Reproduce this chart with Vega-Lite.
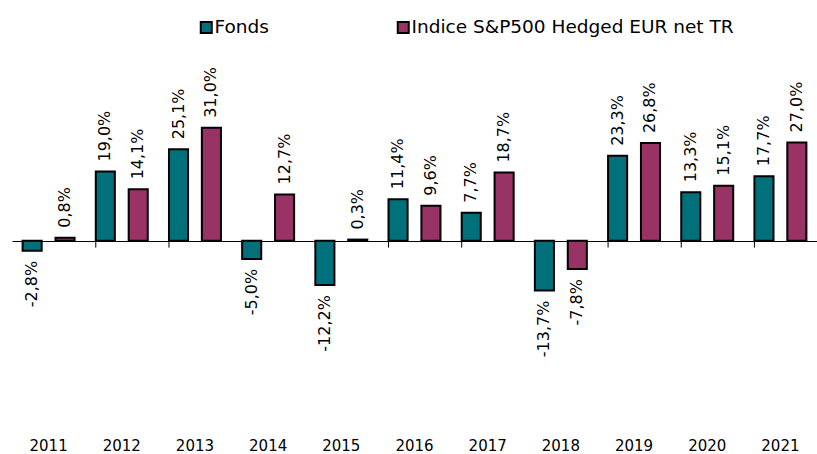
{
  "$schema": "https://vega.github.io/schema/vega-lite/v6.json",
  "width": 805,
  "height": 375,
  "autosize": {"type": "none"},
  "padding": {"left": 12, "top": 55, "right": 0, "bottom": 24},
  "config": {
    "locale": {"number": {"decimal": ",", "thousands": " ", "grouping": [3], "currency": ["", " €"], "minus": "-"}},
    "view": {"stroke": null},
    "font": "DejaVu Sans"
  },
  "data": {
    "values": [
      {"year": "2011", "series": "Fonds", "value": -0.028},
      {"year": "2011", "series": "Indice S&P500 Hedged EUR net TR", "value": 0.008},
      {"year": "2012", "series": "Fonds", "value": 0.190},
      {"year": "2012", "series": "Indice S&P500 Hedged EUR net TR", "value": 0.141},
      {"year": "2013", "series": "Fonds", "value": 0.251},
      {"year": "2013", "series": "Indice S&P500 Hedged EUR net TR", "value": 0.310},
      {"year": "2014", "series": "Fonds", "value": -0.050},
      {"year": "2014", "series": "Indice S&P500 Hedged EUR net TR", "value": 0.127},
      {"year": "2015", "series": "Fonds", "value": -0.122},
      {"year": "2015", "series": "Indice S&P500 Hedged EUR net TR", "value": 0.003},
      {"year": "2016", "series": "Fonds", "value": 0.114},
      {"year": "2016", "series": "Indice S&P500 Hedged EUR net TR", "value": 0.096},
      {"year": "2017", "series": "Fonds", "value": 0.077},
      {"year": "2017", "series": "Indice S&P500 Hedged EUR net TR", "value": 0.187},
      {"year": "2018", "series": "Fonds", "value": -0.137},
      {"year": "2018", "series": "Indice S&P500 Hedged EUR net TR", "value": -0.078},
      {"year": "2019", "series": "Fonds", "value": 0.233},
      {"year": "2019", "series": "Indice S&P500 Hedged EUR net TR", "value": 0.268},
      {"year": "2020", "series": "Fonds", "value": 0.133},
      {"year": "2020", "series": "Indice S&P500 Hedged EUR net TR", "value": 0.151},
      {"year": "2021", "series": "Fonds", "value": 0.177},
      {"year": "2021", "series": "Indice S&P500 Hedged EUR net TR", "value": 0.270}
    ]
  },
  "encoding": {
    "x": {
      "field": "year", "type": "nominal",
      "scale": {"paddingInner": 0.29, "paddingOuter": 0.145},
      "axis": {
        "orient": "bottom", "offset": -189, "title": null,
        "domain": true, "domainColor": "black", "domainWidth": 1,
        "ticks": false,
        "labelAngle": 0, "labelFontSize": 15, "labelColor": "black",
        "labelPadding": 197, "grid": false
      }
    }
  },
  "layer": [
    {
      "transform": [{"filter": "datum.series == 'Fonds'"}],
      "mark": {"type": "rule", "color": "black", "strokeWidth": 1},
      "encoding": {
        "x": {"field": "year", "type": "nominal", "bandPosition": 0},
        "y": {"datum": 0, "type": "quantitative", "scale": {"domain": [-0.52, 0.51], "nice": false, "zero": false}, "axis": null},
        "y2": {"datum": -0.019}
      }
    },
    {
      "mark": {"type": "bar", "stroke": "black", "strokeWidth": 2},
      "encoding": {
        "xOffset": {"field": "series", "type": "nominal", "sort": ["Fonds", "Indice S&P500 Hedged EUR net TR"], "scale": {"paddingInner": 0.42, "paddingOuter": 0}},
        "y": {"field": "value", "type": "quantitative", "axis": null},
        "color": {
          "field": "series", "type": "nominal",
          "scale": {"domain": ["Fonds", "Indice S&P500 Hedged EUR net TR"], "range": ["#00707A", "#993366"]},
          "legend": {
            "orient": "none", "legendX": 185, "legendY": -37,
            "direction": "horizontal", "title": null,
            "symbolType": "square", "symbolSize": 121,
            "symbolStrokeColor": "black", "symbolStrokeWidth": 2,
            "labelFontSize": 18.5, "labelColor": "black", "labelOffset": -1,
            "labelLimit": 400, "columnPadding": 124
          }
        }
      }
    },
    {
      "transform": [{"filter": "datum.value >= 0"}],
      "mark": {"type": "text", "angle": 270, "align": "left", "baseline": "middle", "dx": 10, "fontSize": 16, "color": "black"},
      "encoding": {
        "xOffset": {"field": "series", "type": "nominal", "sort": ["Fonds", "Indice S&P500 Hedged EUR net TR"]},
        "y": {"field": "value", "type": "quantitative", "axis": null},
        "text": {"field": "value", "type": "quantitative", "format": ".1%"}
      }
    },
    {
      "transform": [{"filter": "datum.value < 0"}],
      "mark": {"type": "text", "angle": 270, "align": "right", "baseline": "middle", "dx": -10, "fontSize": 16, "color": "black"},
      "encoding": {
        "xOffset": {"field": "series", "type": "nominal", "sort": ["Fonds", "Indice S&P500 Hedged EUR net TR"]},
        "y": {"field": "value", "type": "quantitative", "axis": null},
        "text": {"field": "value", "type": "quantitative", "format": ".1%"}
      }
    }
  ]
}
